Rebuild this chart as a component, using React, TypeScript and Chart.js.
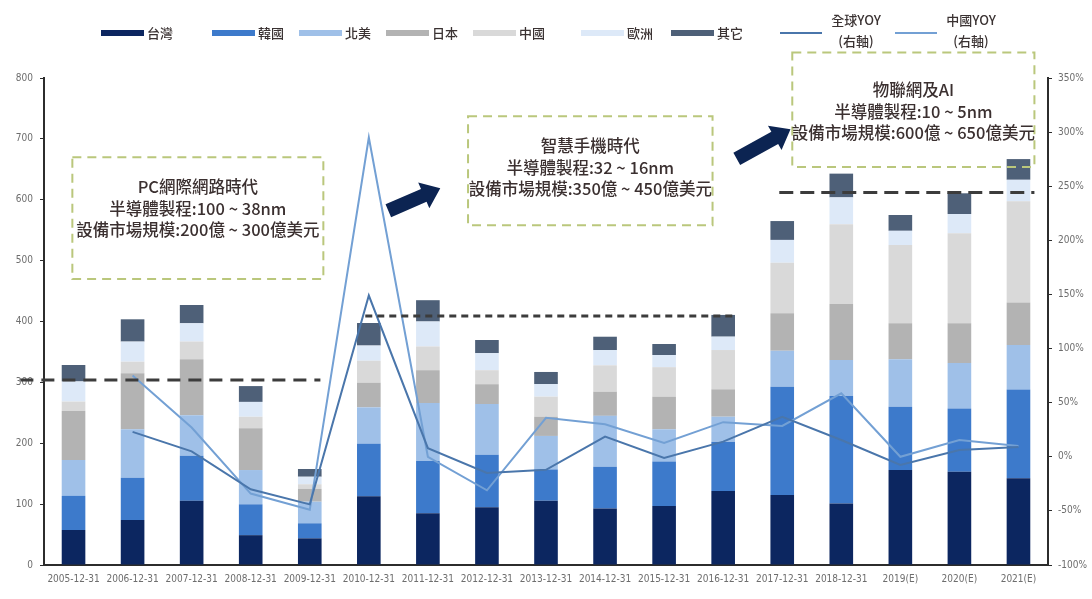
import React, { useEffect, useRef } from "react";
import { Chart, registerables } from "chart.js";
Chart.register(...registerables);

const categories = [
  "2005-12-31", "2006-12-31", "2007-12-31", "2008-12-31", "2009-12-31", "2010-12-31",
  "2011-12-31", "2012-12-31", "2013-12-31", "2014-12-31", "2015-12-31", "2016-12-31",
  "2017-12-31", "2018-12-31", "2019(E)", "2020(E)", "2021(E)",
];
const taiwan = [57.5, 74, 105.6, 49, 43.8, 113, 85, 95, 105.6, 93, 97, 121.6, 115, 101, 156, 153, 142.4];
const korea = [56, 69.4, 74, 50.7, 24.7, 86, 86, 86, 51.4, 68.5, 73, 81, 178, 176.6, 104, 104, 146];
const northAmerica = [59, 79.6, 66.5, 56.3, 35.5, 60, 95, 83.5, 55, 83.5, 53, 41, 59, 59, 78, 75, 73];
const japan = [81, 92, 92, 68.5, 21, 40.5, 54, 32.5, 31.6, 39.7, 53.5, 45, 61.5, 92, 59, 65, 70];
const china = [15, 19, 29, 19, 7.6, 36, 39, 23, 33, 43.3, 48.5, 64.5, 83, 131.3, 128.7, 148, 166];
const europe = [33, 33, 30, 24.4, 12.4, 25, 41, 28, 20.5, 25, 20, 22, 37.5, 44, 23.3, 31.6, 35.4];
const others = [27, 36.6, 30, 26, 12.7, 37, 35, 21.6, 20, 22, 18, 35.7, 31, 39, 26, 34, 34];
const globalYoy = [null, 23, 5, -30, -44, 149, 8, -15, -12, 18.6, -1, 14, 37, 15.5, -7.6, 6.3, 9];
const chinaYoy = [null, 75, 27, -34, -49, 295, 0, -31, 36, 30, 12.7, 32, 28.5, 58.7, 0, 15.5, 10];

const leftTicks = [0, 100, 200, 300, 400, 500, 600, 700, 800];
const rightTicks = [-100, -50, 0, 50, 100, 150, 200, 250, 300, 350];

const barNames = ["台灣", "韓國", "北美", "日本", "中國", "歐洲", "其它"];
const barSeries = [taiwan, korea, northAmerica, japan, china, europe, others];
const barColors = ["#0c2660", "#3d7acb", "#9fc0e8", "#b3b3b3", "#d9d9d9", "#dde9f8", "#4e6078"];
const lineNames = [["全球YOY", "(右軸)"], ["中國YOY", "(右軸)"]];
const lineSeries = [globalYoy, chinaYoy];
const lineColors = ["#4a76ab", "#73a0d4"];

// era annotations (category index range, left-axis value range, text lines)
const eraBoxes = [
  { x0: -0.02, x1: 4.23, y0: 470, y1: 670, lines: ["PC網際網路時代", "半導體製程:100 ~ 38nm", "設備市場規模:200億 ~ 300億美元"], ty: [621, 586, 551] },
  { x0: 6.68, x1: 10.82, y0: 558, y1: 737, lines: ["智慧手機時代", "半導體製程:32 ~ 16nm", "設備市場規模:350億 ~ 450億美元"], ty: [688, 653, 618] },
  { x0: 12.17, x1: 16.27, y0: 654, y1: 842, lines: ["物聯網及AI", "半導體製程:10 ~ 5nm", "設備市場規模:600億 ~ 650億美元"], ty: [780, 745, 710] },
];
const eraLevels = [
  { x0: -0.9, x1: 4.18, v: 304, dash: [13, 8] },
  { x0: 4.94, x1: 11.19, v: 409, dash: [7, 5] },
  { x0: 11.95, x1: 16.27, v: 612, dash: [14, 7] },
];
const arrows = [
  { x0: 5.33, v0: 582, x1: 6.21, v1: 619 },
  { x0: 11.23, v0: 667, x1: 12.14, v1: 716 },
];

const legendMarkX = [101, 212, 299, 386, 473, 581, 671, 780, 895];

const CJK = "'Noto Sans CJK TC', 'Noto Sans CJK SC', sans-serif";
const NARROW = "'Liberation Sans Narrow', 'DejaVu Sans Condensed', sans-serif";

const overlayPlugin = {
  id: "overlay",
  afterDraw(chart: any) {
    const ctx = chart.ctx as CanvasRenderingContext2D;
    const xs = chart.scales.x;
    const ys = chart.scales.y;
    const p0 = xs.getPixelForValue(0);
    const step = xs.getPixelForValue(1) - p0;
    const px = (i: number) => p0 + i * step;
    const py = (v: number) => ys.getPixelForValue(v);
    ctx.save();
    eraLevels.forEach((l) => {
      ctx.beginPath();
      ctx.setLineDash(l.dash);
      ctx.lineWidth = 3;
      ctx.strokeStyle = "#3c3c3c";
      ctx.moveTo(px(l.x0), py(l.v));
      ctx.lineTo(px(l.x1), py(l.v));
      ctx.stroke();
    });
    eraBoxes.forEach((b) => {
      ctx.setLineDash([9, 6]);
      ctx.lineWidth = 2;
      ctx.strokeStyle = "#bac77c";
      const x0 = px(b.x0), x1 = px(b.x1), y0 = py(b.y1), y1 = py(b.y0);
      ctx.strokeRect(x0, y0, x1 - x0, y1 - y0);
      ctx.setLineDash([]);
      ctx.fillStyle = "#3b3030";
      ctx.font = `500 16.5px ${CJK}`;
      ctx.textAlign = "center";
      ctx.textBaseline = "middle";
      b.lines.forEach((t, k) => ctx.fillText(t, (x0 + x1) / 2, py(b.ty[k])));
    });
    ctx.setLineDash([]);
    arrows.forEach((a) => {
      const x0 = px(a.x0), y0 = py(a.v0), x1 = px(a.x1), y1 = py(a.v1);
      const ang = Math.atan2(y1 - y0, x1 - x0);
      const len = Math.hypot(x1 - x0, y1 - y0);
      const hl = 18, bw = 7, hw = 14;
      ctx.save();
      ctx.translate(x0, y0);
      ctx.rotate(ang);
      ctx.beginPath();
      ctx.moveTo(0, -bw);
      ctx.lineTo(len - hl, -bw);
      ctx.lineTo(len - hl, -hw);
      ctx.lineTo(len, 0);
      ctx.lineTo(len - hl, hw);
      ctx.lineTo(len - hl, bw);
      ctx.lineTo(0, bw);
      ctx.closePath();
      ctx.fillStyle = "#0c2452";
      ctx.fill();
      ctx.restore();
    });
    ctx.textAlign = "left";
    ctx.textBaseline = "middle";
    ctx.font = `500 13px ${CJK}`;
    const ly = 33;
    barNames.forEach((n, i) => {
      const x = legendMarkX[i];
      ctx.fillStyle = barColors[i];
      ctx.fillRect(x, ly - 3, 43, 6);
      ctx.fillStyle = "#3a3232";
      ctx.fillText(n, x + 46, ly);
    });
    lineNames.forEach((n, j) => {
      const x = legendMarkX[barNames.length + j];
      ctx.strokeStyle = lineColors[j];
      ctx.lineWidth = 2;
      ctx.beginPath();
      ctx.moveTo(x, ly);
      ctx.lineTo(x + 42, ly);
      ctx.stroke();
      ctx.fillStyle = "#3a3232";
      ctx.textAlign = "center";
      ctx.fillText(n[0], x + 76, 20);
      ctx.fillText(n[1], x + 76, 41);
      ctx.textAlign = "left";
    });
    ctx.restore();
  },
};

export default function App() {
  const ref = useRef<HTMLCanvasElement>(null);
  useEffect(() => {
    if (!ref.current) return;
    const datasets: any[] = [
      ...lineSeries.map((d, j) => ({
        type: "line",
        label: lineNames[j].join(""),
        data: d,
        yAxisID: "y1",
        borderColor: lineColors[j],
        backgroundColor: lineColors[j],
        borderWidth: 2,
        pointRadius: 0,
        tension: 0,
        order: 0,
      })),
      ...barSeries.map((d, i) => ({
        type: "bar",
        label: barNames[i],
        data: d,
        yAxisID: "y",
        stack: "s",
        backgroundColor: barColors[i],
        borderWidth: 0,
        barPercentage: 0.4,
        categoryPercentage: 1,
        order: 1,
      })),
    ];
    const tickFont = { family: NARROW, size: 10 };
    const chart = new Chart(ref.current, {
      type: "bar",
      data: { labels: categories, datasets },
      options: {
        responsive: true,
        maintainAspectRatio: false,
        animation: false,
        layout: { padding: { top: 78, left: 0, right: 0, bottom: 0 } },
        plugins: { legend: { display: false }, tooltip: { enabled: false } },
        scales: {
          x: {
            stacked: true,
            grid: { display: false, drawTicks: false },
            border: { display: true, color: "#2c2c2c", width: 2 },
            ticks: { color: "#6d6d6d", font: tickFont, autoSkip: false, maxRotation: 0, padding: 8 },
            afterFit: (s: any) => { s.height = 34; },
          },
          y: {
            stacked: true,
            position: "left",
            min: leftTicks[0],
            max: leftTicks[leftTicks.length - 1],
            grid: { drawOnChartArea: false, tickLength: 4, color: "#2c2c2c" },
            border: { display: true, color: "#2c2c2c", width: 2 },
            ticks: { stepSize: 100, color: "#6d6d6d", font: tickFont, padding: 7 },
            afterFit: (s: any) => { s.width = 44; },
          },
          y1: {
            position: "right",
            min: rightTicks[0],
            max: rightTicks[rightTicks.length - 1],
            grid: { drawOnChartArea: false, tickLength: 4, color: "#2c2c2c" },
            border: { display: true, color: "#2c2c2c", width: 2 },
            ticks: { stepSize: 50, color: "#6d6d6d", font: tickFont, padding: 6, callback: (v: any) => `${v}%` },
            afterFit: (s: any) => { s.width = 44; },
          },
        },
      },
      plugins: [overlayPlugin],
    });
    return () => chart.destroy();
  }, []);
  return (
    <div style={{ position: "fixed", left: 0, top: 0, width: 1092, height: 599, background: "#fff" }}>
      <canvas ref={ref} />
    </div>
  );
}
